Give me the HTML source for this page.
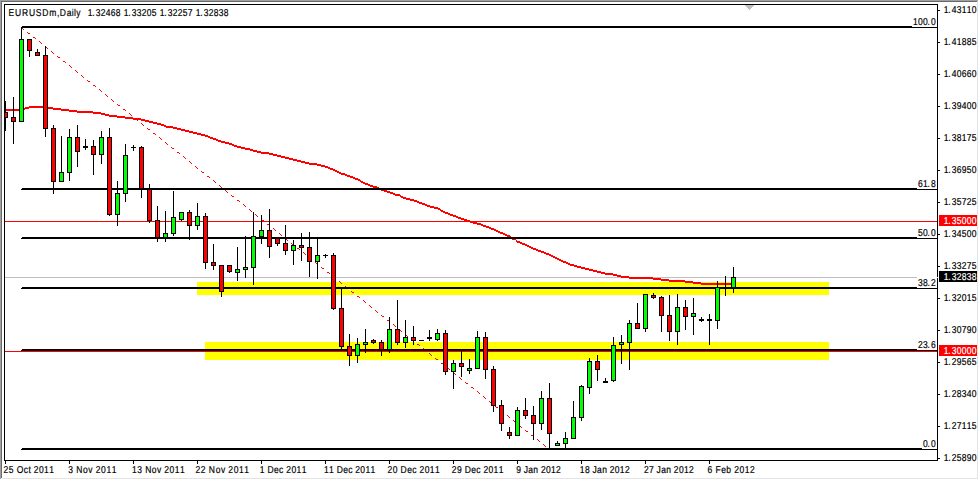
<!DOCTYPE html>
<html><head><meta charset="utf-8"><style>
html,body{margin:0;padding:0;background:#fff;width:979px;height:480px;overflow:hidden}
svg{display:block}
text{font-family:"Liberation Sans", sans-serif}
</style></head><body>
<svg width="979" height="480" viewBox="0 0 979 480" shape-rendering="crispEdges">
<defs><clipPath id="cc"><rect x="5" y="5" width="932" height="455"/></clipPath></defs>
<rect x="0" y="0" width="978" height="1" fill="#a0a0a0"/>
<rect x="0" y="0" width="1" height="479" fill="#a0a0a0"/>
<rect x="1" y="1" width="976" height="1" fill="#696969"/>
<rect x="1" y="1" width="1" height="477" fill="#696969"/>
<rect x="977" y="1" width="1" height="478" fill="#e3e3e3"/>
<rect x="2" y="478" width="976" height="1" fill="#e3e3e3"/>
<rect x="197" y="282" width="632" height="13" fill="#ffff00"/>
<rect x="205" y="342" width="624" height="18" fill="#ffff00"/>
<rect x="5" y="277" width="932" height="1" fill="#c0c0c0"/>
<path fill="#ff0000" d="M5 109h19v2h-19zM24 108h1v2h-1zM25 107h4v2h-4zM29 106h16v2h-16zM45 107h8v2h-8zM53 108h8v2h-8zM61 109h8v2h-8zM69 110h8v2h-8zM77 111h16v2h-16zM93 112h8v2h-8zM101 113h4v2h-4zM105 114h4v2h-4zM109 115h8v2h-8zM117 116h8v2h-8zM125 117h8v2h-8zM133 118h8v2h-8zM141 119h4v2h-4zM145 120h4v2h-4zM149 121h4v2h-4zM153 122h4v2h-4zM157 123h4v2h-4zM161 124h3v2h-3zM164 125h2v2h-2zM166 126h7v2h-7zM173 127h4v2h-4zM177 128h4v2h-4zM181 129h4v2h-4zM185 130h4v2h-4zM189 131h4v2h-4zM193 132h4v2h-4zM197 133h4v2h-4zM201 134h4v2h-4zM205 135h3v2h-3zM208 136h2v2h-2zM210 137h3v2h-3zM213 138h3v2h-3zM216 139h2v2h-2zM218 140h3v2h-3zM221 141h4v2h-4zM225 142h4v2h-4zM229 143h3v2h-3zM232 144h2v2h-2zM234 145h3v2h-3zM237 146h4v2h-4zM241 147h4v2h-4zM245 148h5v2h-5zM250 149h3v2h-3zM253 150h4v2h-4zM257 151h4v2h-4zM261 152h8v2h-8zM269 153h4v2h-4zM273 154h4v2h-4zM277 155h4v2h-4zM281 156h4v2h-4zM285 157h4v2h-4zM289 158h4v2h-4zM293 159h4v2h-4zM297 160h4v2h-4zM301 161h4v2h-4zM305 162h4v2h-4zM309 163h8v2h-8zM317 164h4v2h-4zM321 165h4v2h-4zM325 166h3v2h-3zM328 167h2v2h-2zM330 168h3v2h-3zM333 169h2v2h-2zM335 170h2v2h-2zM337 171h2v2h-2zM339 172h2v2h-2zM341 173h4v2h-4zM345 174h2v2h-2zM347 175h3v2h-3zM350 176h3v2h-3zM353 177h2v2h-2zM355 178h3v2h-3zM358 179h2v2h-2zM360 180h1v2h-1zM361 181h2v2h-2zM363 182h2v2h-2zM365 183h3v2h-3zM368 184h2v2h-2zM370 185h3v2h-3zM373 186h4v2h-4zM377 187h2v2h-2zM379 188h2v2h-2zM381 189h3v2h-3zM384 190h3v2h-3zM387 191h3v2h-3zM390 192h3v2h-3zM393 193h2v2h-2zM395 194h5v2h-5zM400 195h1v2h-1zM401 196h2v2h-2zM403 197h3v2h-3zM406 198h4v2h-4zM410 199h4v2h-4zM414 200h3v2h-3zM417 201h2v2h-2zM419 202h3v2h-3zM422 203h3v2h-3zM425 204h2v2h-2zM427 205h3v2h-3zM430 206h4v2h-4zM434 207h4v2h-4zM438 208h2v2h-2zM440 209h1v2h-1zM441 210h2v2h-2zM443 211h2v2h-2zM445 212h3v2h-3zM448 213h2v2h-2zM450 214h3v2h-3zM453 215h3v2h-3zM456 216h2v2h-2zM458 217h3v2h-3zM461 218h3v2h-3zM464 219h3v2h-3zM467 220h3v2h-3zM470 221h3v2h-3zM473 222h4v2h-4zM477 223h4v2h-4zM481 224h2v2h-2zM483 225h3v2h-3zM486 226h3v2h-3zM489 227h2v2h-2zM491 228h3v2h-3zM494 229h2v2h-2zM496 230h2v2h-2zM498 231h2v2h-2zM500 232h3v2h-3zM503 233h2v2h-2zM505 234h2v2h-2zM507 235h3v2h-3zM510 236h1v2h-1zM511 237h1v2h-1zM512 238h4v2h-4zM516 240h1v2h-1zM517 241h3v2h-3zM520 242h2v2h-2zM522 243h3v2h-3zM525 244h2v2h-2zM527 245h2v2h-2zM529 246h2v2h-2zM531 247h2v2h-2zM533 248h3v2h-3zM536 249h2v2h-2zM538 250h3v2h-3zM541 251h3v2h-3zM544 252h2v2h-2zM546 253h3v2h-3zM549 254h2v2h-2zM551 255h2v2h-2zM553 256h2v2h-2zM555 257h2v2h-2zM557 258h2v2h-2zM559 259h2v2h-2zM561 260h2v2h-2zM563 261h3v2h-3zM566 262h2v2h-2zM568 263h2v2h-2zM570 264h4v2h-4zM574 265h3v2h-3zM577 266h4v2h-4zM581 267h4v2h-4zM585 268h4v2h-4zM589 269h4v2h-4zM593 270h4v2h-4zM597 271h4v2h-4zM601 272h4v2h-4zM605 273h8v2h-8zM613 274h4v2h-4zM617 275h4v2h-4zM621 276h8v2h-8zM629 277h24v2h-24zM653 278h8v2h-8zM661 279h8v2h-8zM669 280h16v2h-16zM685 281h8v2h-8zM693 282h8v2h-8zM701 283h33v2h-33z"/>
<path fill="#fff" d="M24 29h1v1h-1zM25 30h1v1h-1zM26 31h1v1h-1zM30 34h1v1h-1zM31 35h1v1h-1zM32 36h1v1h-1zM36 39h1v1h-1zM37 40h1v1h-1zM38 41h1v1h-1zM42 44h1v1h-1zM43 45h1v1h-1zM44 45h1v1h-1zM48 49h1v1h-1zM49 49h1v1h-1zM50 50h1v1h-1zM54 53h1v1h-1zM55 54h1v1h-1zM56 55h1v1h-1zM60 58h1v1h-1zM61 59h1v1h-1zM62 60h1v1h-1zM66 63h1v1h-1zM67 64h1v1h-1zM68 65h1v1h-1zM72 68h1v1h-1zM73 69h1v1h-1zM74 69h1v1h-1zM78 73h1v1h-1zM79 73h1v1h-1zM80 74h1v1h-1zM84 77h1v1h-1zM85 78h1v1h-1zM86 79h1v1h-1zM90 82h1v1h-1zM91 83h1v1h-1zM92 84h1v1h-1zM96 87h1v1h-1zM97 88h1v1h-1zM98 89h1v1h-1zM102 92h1v1h-1zM103 93h1v1h-1zM104 93h1v1h-1zM108 97h1v1h-1zM109 97h1v1h-1zM110 98h1v1h-1zM114 101h1v1h-1zM115 102h1v1h-1zM116 103h1v1h-1zM120 106h1v1h-1zM121 107h1v1h-1zM122 108h1v1h-1zM126 111h1v1h-1zM127 112h1v1h-1zM128 113h1v1h-1zM132 116h1v1h-1zM133 117h1v1h-1zM134 117h1v1h-1zM138 121h1v1h-1zM139 121h1v1h-1zM140 122h1v1h-1zM144 125h1v1h-1zM145 126h1v1h-1zM146 127h1v1h-1zM150 130h1v1h-1zM151 131h1v1h-1zM152 132h1v1h-1zM156 135h1v1h-1zM157 136h1v1h-1zM158 136h1v1h-1zM162 140h1v1h-1zM163 140h1v1h-1zM164 141h1v1h-1zM168 144h1v1h-1zM169 145h1v1h-1zM170 146h1v1h-1zM174 149h1v1h-1zM175 150h1v1h-1zM176 151h1v1h-1zM180 154h1v1h-1zM181 155h1v1h-1zM182 156h1v1h-1zM186 159h1v1h-1zM187 160h1v1h-1zM188 160h1v1h-1zM192 164h1v1h-1zM193 164h1v1h-1zM194 165h1v1h-1zM198 168h1v1h-1zM199 169h1v1h-1zM200 170h1v1h-1zM204 173h1v1h-1zM205 174h1v1h-1zM206 175h1v1h-1zM210 178h1v1h-1zM211 179h1v1h-1zM212 180h1v1h-1zM216 183h1v1h-1zM217 184h1v1h-1zM218 184h1v1h-1zM222 188h1v1h-1zM223 188h1v1h-1zM224 189h1v1h-1zM228 192h1v1h-1zM229 193h1v1h-1zM230 194h1v1h-1zM234 197h1v1h-1zM235 198h1v1h-1zM236 199h1v1h-1zM240 202h1v1h-1zM241 203h1v1h-1zM242 204h1v1h-1zM246 207h1v1h-1zM247 208h1v1h-1zM248 208h1v1h-1zM252 212h1v1h-1zM253 212h1v1h-1zM254 213h1v1h-1zM258 216h1v1h-1zM259 217h1v1h-1zM260 218h1v1h-1zM264 221h1v1h-1zM265 222h1v1h-1zM266 223h1v1h-1zM270 226h1v1h-1zM271 227h1v1h-1zM272 228h1v1h-1zM276 231h1v1h-1zM277 232h1v1h-1zM278 232h1v1h-1zM282 236h1v1h-1zM283 236h1v1h-1zM284 237h1v1h-1zM288 240h1v1h-1zM289 241h1v1h-1zM290 242h1v1h-1zM294 245h1v1h-1zM295 246h1v1h-1zM296 247h1v1h-1zM300 250h1v1h-1zM301 251h1v1h-1zM302 252h1v1h-1zM306 255h1v1h-1zM307 256h1v1h-1zM308 256h1v1h-1zM312 260h1v1h-1zM313 260h1v1h-1zM314 261h1v1h-1zM318 264h1v1h-1zM319 265h1v1h-1zM320 266h1v1h-1zM324 269h1v1h-1zM325 270h1v1h-1zM326 271h1v1h-1zM330 274h1v1h-1zM331 275h1v1h-1zM332 276h1v1h-1zM336 279h1v1h-1zM337 280h1v1h-1zM338 280h1v1h-1zM342 284h1v1h-1zM343 284h1v1h-1zM344 285h1v1h-1zM348 288h1v1h-1zM349 289h1v1h-1zM350 290h1v1h-1zM354 293h1v1h-1zM355 294h1v1h-1zM356 295h1v1h-1zM360 298h1v1h-1zM361 299h1v1h-1zM362 300h1v1h-1zM366 303h1v1h-1zM367 304h1v1h-1zM368 304h1v1h-1zM372 308h1v1h-1zM373 308h1v1h-1zM374 309h1v1h-1zM378 312h1v1h-1zM379 313h1v1h-1zM380 314h1v1h-1zM384 317h1v1h-1zM385 318h1v1h-1zM386 319h1v1h-1zM390 322h1v1h-1zM391 323h1v1h-1zM392 324h1v1h-1zM396 327h1v1h-1zM397 328h1v1h-1zM398 328h1v1h-1zM402 332h1v1h-1zM403 332h1v1h-1zM404 333h1v1h-1zM408 336h1v1h-1zM409 337h1v1h-1zM410 338h1v1h-1zM414 341h1v1h-1zM415 342h1v1h-1zM416 343h1v1h-1zM420 346h1v1h-1zM421 347h1v1h-1zM422 347h1v1h-1zM426 351h1v1h-1zM427 351h1v1h-1zM428 352h1v1h-1zM432 355h1v1h-1zM433 356h1v1h-1zM434 357h1v1h-1zM438 360h1v1h-1zM439 361h1v1h-1zM440 362h1v1h-1zM444 365h1v1h-1zM445 366h1v1h-1zM446 367h1v1h-1zM450 370h1v1h-1zM451 371h1v1h-1zM452 371h1v1h-1zM456 375h1v1h-1zM457 375h1v1h-1zM458 376h1v1h-1zM462 379h1v1h-1zM463 380h1v1h-1zM464 381h1v1h-1zM468 384h1v1h-1zM469 385h1v1h-1zM470 386h1v1h-1zM474 389h1v1h-1zM475 390h1v1h-1zM476 391h1v1h-1zM480 394h1v1h-1zM481 395h1v1h-1zM482 395h1v1h-1zM486 399h1v1h-1zM487 399h1v1h-1zM488 400h1v1h-1zM492 403h1v1h-1zM493 404h1v1h-1zM494 405h1v1h-1zM498 408h1v1h-1zM499 409h1v1h-1zM500 410h1v1h-1zM504 413h1v1h-1zM505 414h1v1h-1zM506 415h1v1h-1zM510 418h1v1h-1zM511 419h1v1h-1zM512 419h1v1h-1zM516 423h1v1h-1zM517 423h1v1h-1zM518 424h1v1h-1zM522 427h1v1h-1zM523 428h1v1h-1zM524 429h1v1h-1zM528 432h1v1h-1zM529 433h1v1h-1zM530 434h1v1h-1zM534 437h1v1h-1zM535 438h1v1h-1zM536 439h1v1h-1zM540 442h1v1h-1zM541 443h1v1h-1zM542 443h1v1h-1zM546 447h1v1h-1zM547 447h1v1h-1zM548 448h1v1h-1z"/>
<path fill="#ff0000" d="M22 28h1v1h-1zM23 29h1v1h-1zM27 32h1v1h-1zM28 33h1v1h-1zM29 33h1v1h-1zM33 37h1v1h-1zM34 37h1v1h-1zM35 38h1v1h-1zM39 41h1v1h-1zM40 42h1v1h-1zM41 43h1v1h-1zM45 46h1v1h-1zM46 47h1v1h-1zM47 48h1v1h-1zM51 51h1v1h-1zM52 52h1v1h-1zM53 53h1v1h-1zM57 56h1v1h-1zM58 57h1v1h-1zM59 57h1v1h-1zM63 61h1v1h-1zM64 61h1v1h-1zM65 62h1v1h-1zM69 65h1v1h-1zM70 66h1v1h-1zM71 67h1v1h-1zM75 70h1v1h-1zM76 71h1v1h-1zM77 72h1v1h-1zM81 75h1v1h-1zM82 76h1v1h-1zM83 77h1v1h-1zM87 80h1v1h-1zM88 81h1v1h-1zM89 81h1v1h-1zM93 85h1v1h-1zM94 85h1v1h-1zM95 86h1v1h-1zM99 89h1v1h-1zM100 90h1v1h-1zM101 91h1v1h-1zM105 94h1v1h-1zM106 95h1v1h-1zM107 96h1v1h-1zM111 99h1v1h-1zM112 100h1v1h-1zM113 101h1v1h-1zM117 104h1v1h-1zM118 105h1v1h-1zM119 105h1v1h-1zM123 109h1v1h-1zM124 109h1v1h-1zM125 110h1v1h-1zM129 113h1v1h-1zM130 114h1v1h-1zM131 115h1v1h-1zM135 118h1v1h-1zM136 119h1v1h-1zM137 120h1v1h-1zM141 123h1v1h-1zM142 124h1v1h-1zM143 125h1v1h-1zM147 128h1v1h-1zM148 129h1v1h-1zM149 129h1v1h-1zM153 133h1v1h-1zM154 133h1v1h-1zM155 134h1v1h-1zM159 137h1v1h-1zM160 138h1v1h-1zM161 139h1v1h-1zM165 142h1v1h-1zM166 143h1v1h-1zM167 144h1v1h-1zM171 147h1v1h-1zM172 148h1v1h-1zM173 148h1v1h-1zM177 152h1v1h-1zM178 152h1v1h-1zM179 153h1v1h-1zM183 156h1v1h-1zM184 157h1v1h-1zM185 158h1v1h-1zM189 161h1v1h-1zM190 162h1v1h-1zM191 163h1v1h-1zM195 166h1v1h-1zM196 167h1v1h-1zM197 168h1v1h-1zM201 171h1v1h-1zM202 172h1v1h-1zM203 172h1v1h-1zM207 176h1v1h-1zM208 176h1v1h-1zM209 177h1v1h-1zM213 180h1v1h-1zM214 181h1v1h-1zM215 182h1v1h-1zM219 185h1v1h-1zM220 186h1v1h-1zM221 187h1v1h-1zM225 190h1v1h-1zM226 191h1v1h-1zM227 192h1v1h-1zM231 195h1v1h-1zM232 196h1v1h-1zM233 196h1v1h-1zM237 200h1v1h-1zM238 200h1v1h-1zM239 201h1v1h-1zM243 204h1v1h-1zM244 205h1v1h-1zM245 206h1v1h-1zM249 209h1v1h-1zM250 210h1v1h-1zM251 211h1v1h-1zM255 214h1v1h-1zM256 215h1v1h-1zM257 216h1v1h-1zM261 219h1v1h-1zM262 220h1v1h-1zM263 220h1v1h-1zM267 224h1v1h-1zM268 224h1v1h-1zM269 225h1v1h-1zM273 228h1v1h-1zM274 229h1v1h-1zM275 230h1v1h-1zM279 233h1v1h-1zM280 234h1v1h-1zM281 235h1v1h-1zM285 238h1v1h-1zM286 239h1v1h-1zM287 240h1v1h-1zM291 243h1v1h-1zM292 244h1v1h-1zM293 244h1v1h-1zM297 248h1v1h-1zM298 248h1v1h-1zM299 249h1v1h-1zM303 252h1v1h-1zM304 253h1v1h-1zM305 254h1v1h-1zM309 257h1v1h-1zM310 258h1v1h-1zM311 259h1v1h-1zM315 262h1v1h-1zM316 263h1v1h-1zM317 264h1v1h-1zM321 267h1v1h-1zM322 268h1v1h-1zM323 268h1v1h-1zM327 272h1v1h-1zM328 272h1v1h-1zM329 273h1v1h-1zM333 276h1v1h-1zM334 277h1v1h-1zM335 278h1v1h-1zM339 281h1v1h-1zM340 282h1v1h-1zM341 283h1v1h-1zM345 286h1v1h-1zM346 287h1v1h-1zM347 288h1v1h-1zM351 291h1v1h-1zM352 292h1v1h-1zM353 292h1v1h-1zM357 296h1v1h-1zM358 296h1v1h-1zM359 297h1v1h-1zM363 300h1v1h-1zM364 301h1v1h-1zM365 302h1v1h-1zM369 305h1v1h-1zM370 306h1v1h-1zM371 307h1v1h-1zM375 310h1v1h-1zM376 311h1v1h-1zM377 312h1v1h-1zM381 315h1v1h-1zM382 316h1v1h-1zM383 316h1v1h-1zM387 320h1v1h-1zM388 320h1v1h-1zM389 321h1v1h-1zM393 324h1v1h-1zM394 325h1v1h-1zM395 326h1v1h-1zM399 329h1v1h-1zM400 330h1v1h-1zM401 331h1v1h-1zM405 334h1v1h-1zM406 335h1v1h-1zM407 336h1v1h-1zM411 339h1v1h-1zM412 340h1v1h-1zM413 340h1v1h-1zM417 344h1v1h-1zM418 344h1v1h-1zM419 345h1v1h-1zM423 348h1v1h-1zM424 349h1v1h-1zM425 350h1v1h-1zM429 353h1v1h-1zM430 354h1v1h-1zM431 355h1v1h-1zM435 358h1v1h-1zM436 359h1v1h-1zM437 359h1v1h-1zM441 363h1v1h-1zM442 363h1v1h-1zM443 364h1v1h-1zM447 367h1v1h-1zM448 368h1v1h-1zM449 369h1v1h-1zM453 372h1v1h-1zM454 373h1v1h-1zM455 374h1v1h-1zM459 377h1v1h-1zM460 378h1v1h-1zM461 379h1v1h-1zM465 382h1v1h-1zM466 383h1v1h-1zM467 383h1v1h-1zM471 387h1v1h-1zM472 387h1v1h-1zM473 388h1v1h-1zM477 391h1v1h-1zM478 392h1v1h-1zM479 393h1v1h-1zM483 396h1v1h-1zM484 397h1v1h-1zM485 398h1v1h-1zM489 401h1v1h-1zM490 402h1v1h-1zM491 403h1v1h-1zM495 406h1v1h-1zM496 407h1v1h-1zM497 407h1v1h-1zM501 411h1v1h-1zM502 411h1v1h-1zM503 412h1v1h-1zM507 415h1v1h-1zM508 416h1v1h-1zM509 417h1v1h-1zM513 420h1v1h-1zM514 421h1v1h-1zM515 422h1v1h-1zM519 425h1v1h-1zM520 426h1v1h-1zM521 427h1v1h-1zM525 430h1v1h-1zM526 431h1v1h-1zM527 431h1v1h-1zM531 435h1v1h-1zM532 435h1v1h-1zM533 436h1v1h-1zM537 439h1v1h-1zM538 440h1v1h-1zM539 441h1v1h-1zM543 444h1v1h-1zM544 445h1v1h-1zM545 446h1v1h-1z"/>
<rect x="22" y="26" width="915" height="1" fill="#000"/>
<rect x="21" y="27" width="916" height="1" fill="#000"/>
<rect x="22" y="188" width="915" height="1" fill="#000"/>
<rect x="21" y="189" width="916" height="1" fill="#000"/>
<rect x="22" y="237" width="915" height="1" fill="#000"/>
<rect x="21" y="238" width="916" height="1" fill="#000"/>
<rect x="22" y="287" width="915" height="1" fill="#000"/>
<rect x="21" y="288" width="916" height="1" fill="#000"/>
<rect x="22" y="349" width="915" height="1" fill="#000"/>
<rect x="21" y="350" width="916" height="1" fill="#000"/>
<rect x="22" y="448" width="915" height="1" fill="#000"/>
<rect x="21" y="449" width="916" height="1" fill="#000"/>
<rect x="5" y="221" width="932" height="1" fill="#ff0000"/>
<rect x="5" y="351" width="932" height="1" fill="#ff0000"/>
<rect x="912" y="15" width="25" height="12" fill="#fff"/>
<text transform="translate(913.3,25) scale(0.85,1)" x="-0.40 5.48 11.36 16.74 20.78" y="0" font-size="10" fill="#000" stroke="#000" stroke-width="0.2" text-rendering="geometricPrecision">100.0</text>
<rect x="917" y="177" width="20" height="12" fill="#fff"/>
<text transform="translate(918.3,187) scale(0.85,1)" x="-0.40 5.48 10.86 14.89" y="0" font-size="10" fill="#000" stroke="#000" stroke-width="0.2" text-rendering="geometricPrecision">61.8</text>
<rect x="917" y="226" width="20" height="12" fill="#fff"/>
<text transform="translate(918.3,236) scale(0.85,1)" x="-0.40 5.48 10.86 14.89" y="0" font-size="10" fill="#000" stroke="#000" stroke-width="0.2" text-rendering="geometricPrecision">50.0</text>
<rect x="917" y="276" width="20" height="12" fill="#fff"/>
<text transform="translate(918.3,286) scale(0.85,1)" x="-0.40 5.48 10.86 14.89" y="0" font-size="10" fill="#000" stroke="#000" stroke-width="0.2" text-rendering="geometricPrecision">38.2</text>
<rect x="917" y="338" width="20" height="12" fill="#fff"/>
<text transform="translate(918.3,348) scale(0.85,1)" x="-0.40 5.48 10.86 14.89" y="0" font-size="10" fill="#000" stroke="#000" stroke-width="0.2" text-rendering="geometricPrecision">23.6</text>
<rect x="922" y="437" width="15" height="12" fill="#fff"/>
<text transform="translate(923.3,447) scale(0.85,1)" x="-0.40 4.98 9.01" y="0" font-size="10" fill="#000" stroke="#000" stroke-width="0.2" text-rendering="geometricPrecision">0.0</text>
<g clip-path="url(#cc)">
<rect x="5" y="101" width="1" height="30" fill="#000"/>
<rect x="3" y="112" width="5" height="6" fill="#000"/>
<rect x="4" y="113" width="3" height="4" fill="#ff0000"/>
<rect x="13" y="97" width="1" height="47" fill="#000"/>
<rect x="11" y="117" width="5" height="5" fill="#000"/>
<rect x="12" y="118" width="3" height="3" fill="#ff0000"/>
<rect x="21" y="27" width="1" height="95" fill="#000"/>
<rect x="19" y="39" width="5" height="83" fill="#000"/>
<rect x="20" y="40" width="3" height="81" fill="#00ff00"/>
<rect x="29" y="39" width="1" height="18" fill="#000"/>
<rect x="27" y="39" width="5" height="12" fill="#000"/>
<rect x="28" y="40" width="3" height="10" fill="#ff0000"/>
<rect x="37" y="49" width="1" height="7" fill="#000"/>
<rect x="35" y="52" width="5" height="4" fill="#000"/>
<rect x="36" y="53" width="3" height="2" fill="#ff0000"/>
<rect x="45" y="46" width="1" height="91" fill="#000"/>
<rect x="43" y="55" width="5" height="74" fill="#000"/>
<rect x="44" y="56" width="3" height="72" fill="#ff0000"/>
<rect x="53" y="125" width="1" height="69" fill="#000"/>
<rect x="51" y="128" width="5" height="54" fill="#000"/>
<rect x="52" y="129" width="3" height="52" fill="#ff0000"/>
<rect x="61" y="136" width="1" height="46" fill="#000"/>
<rect x="59" y="172" width="5" height="10" fill="#000"/>
<rect x="60" y="173" width="3" height="8" fill="#00ff00"/>
<rect x="69" y="129" width="1" height="52" fill="#000"/>
<rect x="67" y="137" width="5" height="36" fill="#000"/>
<rect x="68" y="138" width="3" height="34" fill="#00ff00"/>
<rect x="77" y="125" width="1" height="42" fill="#000"/>
<rect x="75" y="137" width="5" height="15" fill="#000"/>
<rect x="76" y="138" width="3" height="13" fill="#ff0000"/>
<rect x="85" y="139" width="1" height="11" fill="#000"/>
<rect x="83" y="146" width="5" height="2" fill="#000"/>
<rect x="93" y="140" width="1" height="35" fill="#000"/>
<rect x="91" y="146" width="5" height="9" fill="#000"/>
<rect x="92" y="147" width="3" height="7" fill="#ff0000"/>
<rect x="101" y="131" width="1" height="33" fill="#000"/>
<rect x="99" y="137" width="5" height="18" fill="#000"/>
<rect x="100" y="138" width="3" height="16" fill="#00ff00"/>
<rect x="109" y="128" width="1" height="88" fill="#000"/>
<rect x="107" y="137" width="5" height="78" fill="#000"/>
<rect x="108" y="138" width="3" height="76" fill="#ff0000"/>
<rect x="117" y="181" width="1" height="45" fill="#000"/>
<rect x="115" y="193" width="5" height="22" fill="#000"/>
<rect x="116" y="194" width="3" height="20" fill="#00ff00"/>
<rect x="125" y="144" width="1" height="58" fill="#000"/>
<rect x="123" y="155" width="5" height="39" fill="#000"/>
<rect x="124" y="156" width="3" height="37" fill="#00ff00"/>
<rect x="133" y="145" width="1" height="6" fill="#000"/>
<rect x="131" y="147" width="5" height="1" fill="#000"/>
<rect x="141" y="146" width="1" height="52" fill="#000"/>
<rect x="139" y="147" width="5" height="42" fill="#000"/>
<rect x="140" y="148" width="3" height="40" fill="#ff0000"/>
<rect x="149" y="184" width="1" height="39" fill="#000"/>
<rect x="147" y="189" width="5" height="32" fill="#000"/>
<rect x="148" y="190" width="3" height="30" fill="#ff0000"/>
<rect x="157" y="206" width="1" height="36" fill="#000"/>
<rect x="155" y="220" width="5" height="18" fill="#000"/>
<rect x="156" y="221" width="3" height="16" fill="#ff0000"/>
<rect x="165" y="211" width="1" height="31" fill="#000"/>
<rect x="163" y="233" width="5" height="5" fill="#000"/>
<rect x="164" y="234" width="3" height="3" fill="#00ff00"/>
<rect x="173" y="191" width="1" height="45" fill="#000"/>
<rect x="171" y="217" width="5" height="17" fill="#000"/>
<rect x="172" y="218" width="3" height="15" fill="#00ff00"/>
<rect x="181" y="212" width="1" height="9" fill="#000"/>
<rect x="179" y="212" width="5" height="8" fill="#000"/>
<rect x="180" y="213" width="3" height="6" fill="#00ff00"/>
<rect x="189" y="210" width="1" height="30" fill="#000"/>
<rect x="187" y="212" width="5" height="14" fill="#000"/>
<rect x="188" y="213" width="3" height="12" fill="#ff0000"/>
<rect x="197" y="203" width="1" height="27" fill="#000"/>
<rect x="195" y="216" width="5" height="10" fill="#000"/>
<rect x="196" y="217" width="3" height="8" fill="#00ff00"/>
<rect x="205" y="213" width="1" height="56" fill="#000"/>
<rect x="203" y="216" width="5" height="47" fill="#000"/>
<rect x="204" y="217" width="3" height="45" fill="#ff0000"/>
<rect x="213" y="244" width="1" height="26" fill="#000"/>
<rect x="211" y="262" width="5" height="4" fill="#000"/>
<rect x="212" y="263" width="3" height="2" fill="#ff0000"/>
<rect x="221" y="265" width="1" height="32" fill="#000"/>
<rect x="219" y="265" width="5" height="27" fill="#000"/>
<rect x="220" y="266" width="3" height="25" fill="#ff0000"/>
<rect x="229" y="265" width="1" height="8" fill="#000"/>
<rect x="227" y="265" width="5" height="7" fill="#000"/>
<rect x="228" y="266" width="3" height="5" fill="#ff0000"/>
<rect x="237" y="247" width="1" height="34" fill="#000"/>
<rect x="235" y="269" width="5" height="4" fill="#000"/>
<rect x="236" y="270" width="3" height="2" fill="#00ff00"/>
<rect x="245" y="236" width="1" height="42" fill="#000"/>
<rect x="243" y="267" width="5" height="3" fill="#000"/>
<rect x="244" y="268" width="3" height="1" fill="#00ff00"/>
<rect x="253" y="212" width="1" height="73" fill="#000"/>
<rect x="251" y="236" width="5" height="32" fill="#000"/>
<rect x="252" y="237" width="3" height="30" fill="#00ff00"/>
<rect x="261" y="215" width="1" height="29" fill="#000"/>
<rect x="259" y="230" width="5" height="7" fill="#000"/>
<rect x="260" y="231" width="3" height="5" fill="#00ff00"/>
<rect x="269" y="209" width="1" height="49" fill="#000"/>
<rect x="267" y="230" width="5" height="17" fill="#000"/>
<rect x="268" y="231" width="3" height="15" fill="#ff0000"/>
<rect x="277" y="238" width="1" height="8" fill="#000"/>
<rect x="275" y="238" width="5" height="6" fill="#000"/>
<rect x="276" y="239" width="3" height="4" fill="#ff0000"/>
<rect x="285" y="225" width="1" height="30" fill="#000"/>
<rect x="283" y="243" width="5" height="8" fill="#000"/>
<rect x="284" y="244" width="3" height="6" fill="#ff0000"/>
<rect x="293" y="240" width="1" height="25" fill="#000"/>
<rect x="291" y="245" width="5" height="6" fill="#000"/>
<rect x="292" y="246" width="3" height="4" fill="#00ff00"/>
<rect x="301" y="233" width="1" height="28" fill="#000"/>
<rect x="299" y="245" width="5" height="3" fill="#000"/>
<rect x="300" y="246" width="3" height="1" fill="#ff0000"/>
<rect x="309" y="232" width="1" height="45" fill="#000"/>
<rect x="307" y="247" width="5" height="15" fill="#000"/>
<rect x="308" y="248" width="3" height="13" fill="#ff0000"/>
<rect x="317" y="239" width="1" height="40" fill="#000"/>
<rect x="315" y="255" width="5" height="7" fill="#000"/>
<rect x="316" y="256" width="3" height="5" fill="#00ff00"/>
<rect x="325" y="254" width="1" height="4" fill="#000"/>
<rect x="323" y="255" width="5" height="1" fill="#000"/>
<rect x="333" y="253" width="1" height="57" fill="#000"/>
<rect x="331" y="255" width="5" height="54" fill="#000"/>
<rect x="332" y="256" width="3" height="52" fill="#ff0000"/>
<rect x="341" y="288" width="1" height="62" fill="#000"/>
<rect x="339" y="308" width="5" height="39" fill="#000"/>
<rect x="340" y="309" width="3" height="37" fill="#ff0000"/>
<rect x="349" y="334" width="1" height="32" fill="#000"/>
<rect x="347" y="346" width="5" height="10" fill="#000"/>
<rect x="348" y="347" width="3" height="8" fill="#ff0000"/>
<rect x="357" y="338" width="1" height="25" fill="#000"/>
<rect x="355" y="344" width="5" height="12" fill="#000"/>
<rect x="356" y="345" width="3" height="10" fill="#00ff00"/>
<rect x="365" y="329" width="1" height="24" fill="#000"/>
<rect x="363" y="342" width="5" height="3" fill="#000"/>
<rect x="364" y="343" width="3" height="1" fill="#00ff00"/>
<rect x="373" y="339" width="1" height="5" fill="#000"/>
<rect x="371" y="340" width="5" height="3" fill="#000"/>
<rect x="372" y="341" width="3" height="1" fill="#ff0000"/>
<rect x="381" y="340" width="1" height="16" fill="#000"/>
<rect x="379" y="342" width="5" height="8" fill="#000"/>
<rect x="380" y="343" width="3" height="6" fill="#ff0000"/>
<rect x="389" y="317" width="1" height="36" fill="#000"/>
<rect x="387" y="329" width="5" height="21" fill="#000"/>
<rect x="388" y="330" width="3" height="19" fill="#00ff00"/>
<rect x="397" y="300" width="1" height="45" fill="#000"/>
<rect x="395" y="329" width="5" height="14" fill="#000"/>
<rect x="396" y="330" width="3" height="12" fill="#ff0000"/>
<rect x="405" y="320" width="1" height="28" fill="#000"/>
<rect x="403" y="337" width="5" height="6" fill="#000"/>
<rect x="404" y="338" width="3" height="4" fill="#00ff00"/>
<rect x="413" y="326" width="1" height="19" fill="#000"/>
<rect x="411" y="337" width="5" height="4" fill="#000"/>
<rect x="412" y="338" width="3" height="2" fill="#ff0000"/>
<rect x="421" y="340" width="1" height="1" fill="#000"/>
<rect x="419" y="340" width="5" height="1" fill="#000"/>
<rect x="429" y="330" width="1" height="11" fill="#000"/>
<rect x="427" y="337" width="5" height="2" fill="#000"/>
<rect x="437" y="329" width="1" height="12" fill="#000"/>
<rect x="435" y="333" width="5" height="7" fill="#000"/>
<rect x="436" y="334" width="3" height="5" fill="#00ff00"/>
<rect x="445" y="330" width="1" height="45" fill="#000"/>
<rect x="443" y="333" width="5" height="39" fill="#000"/>
<rect x="444" y="334" width="3" height="37" fill="#ff0000"/>
<rect x="453" y="360" width="1" height="29" fill="#000"/>
<rect x="451" y="363" width="5" height="9" fill="#000"/>
<rect x="452" y="364" width="3" height="7" fill="#00ff00"/>
<rect x="461" y="351" width="1" height="26" fill="#000"/>
<rect x="459" y="363" width="5" height="4" fill="#000"/>
<rect x="460" y="364" width="3" height="2" fill="#ff0000"/>
<rect x="469" y="359" width="1" height="15" fill="#000"/>
<rect x="467" y="368" width="5" height="3" fill="#000"/>
<rect x="468" y="369" width="3" height="1" fill="#00ff00"/>
<rect x="477" y="331" width="1" height="38" fill="#000"/>
<rect x="475" y="337" width="5" height="32" fill="#000"/>
<rect x="476" y="338" width="3" height="30" fill="#00ff00"/>
<rect x="485" y="332" width="1" height="47" fill="#000"/>
<rect x="483" y="337" width="5" height="33" fill="#000"/>
<rect x="484" y="338" width="3" height="31" fill="#ff0000"/>
<rect x="493" y="366" width="1" height="46" fill="#000"/>
<rect x="491" y="369" width="5" height="37" fill="#000"/>
<rect x="492" y="370" width="3" height="35" fill="#ff0000"/>
<rect x="501" y="400" width="1" height="31" fill="#000"/>
<rect x="499" y="405" width="5" height="19" fill="#000"/>
<rect x="500" y="406" width="3" height="17" fill="#ff0000"/>
<rect x="509" y="427" width="1" height="12" fill="#000"/>
<rect x="507" y="432" width="5" height="4" fill="#000"/>
<rect x="508" y="433" width="3" height="2" fill="#ff0000"/>
<rect x="517" y="407" width="1" height="29" fill="#000"/>
<rect x="515" y="410" width="5" height="26" fill="#000"/>
<rect x="516" y="411" width="3" height="24" fill="#00ff00"/>
<rect x="525" y="398" width="1" height="21" fill="#000"/>
<rect x="523" y="410" width="5" height="6" fill="#000"/>
<rect x="524" y="411" width="3" height="4" fill="#ff0000"/>
<rect x="533" y="406" width="1" height="34" fill="#000"/>
<rect x="531" y="415" width="5" height="9" fill="#000"/>
<rect x="532" y="416" width="3" height="7" fill="#ff0000"/>
<rect x="541" y="391" width="1" height="39" fill="#000"/>
<rect x="539" y="398" width="5" height="26" fill="#000"/>
<rect x="540" y="399" width="3" height="24" fill="#00ff00"/>
<rect x="549" y="383" width="1" height="66" fill="#000"/>
<rect x="547" y="398" width="5" height="36" fill="#000"/>
<rect x="548" y="399" width="3" height="34" fill="#ff0000"/>
<rect x="557" y="441" width="1" height="5" fill="#000"/>
<rect x="555" y="443" width="5" height="3" fill="#000"/>
<rect x="556" y="444" width="3" height="1" fill="#00ff00"/>
<rect x="565" y="432" width="1" height="17" fill="#000"/>
<rect x="563" y="438" width="5" height="6" fill="#000"/>
<rect x="564" y="439" width="3" height="4" fill="#00ff00"/>
<rect x="573" y="401" width="1" height="38" fill="#000"/>
<rect x="571" y="417" width="5" height="22" fill="#000"/>
<rect x="572" y="418" width="3" height="20" fill="#00ff00"/>
<rect x="581" y="385" width="1" height="36" fill="#000"/>
<rect x="579" y="386" width="5" height="32" fill="#000"/>
<rect x="580" y="387" width="3" height="30" fill="#00ff00"/>
<rect x="589" y="358" width="1" height="36" fill="#000"/>
<rect x="587" y="361" width="5" height="27" fill="#000"/>
<rect x="588" y="362" width="3" height="25" fill="#00ff00"/>
<rect x="597" y="355" width="1" height="26" fill="#000"/>
<rect x="595" y="361" width="5" height="9" fill="#000"/>
<rect x="596" y="362" width="3" height="7" fill="#ff0000"/>
<rect x="605" y="378" width="1" height="5" fill="#000"/>
<rect x="603" y="381" width="5" height="2" fill="#000"/>
<rect x="613" y="337" width="1" height="45" fill="#000"/>
<rect x="611" y="345" width="5" height="36" fill="#000"/>
<rect x="612" y="346" width="3" height="34" fill="#00ff00"/>
<rect x="621" y="335" width="1" height="29" fill="#000"/>
<rect x="619" y="342" width="5" height="3" fill="#000"/>
<rect x="620" y="343" width="3" height="1" fill="#00ff00"/>
<rect x="629" y="320" width="1" height="50" fill="#000"/>
<rect x="627" y="323" width="5" height="20" fill="#000"/>
<rect x="628" y="324" width="3" height="18" fill="#00ff00"/>
<rect x="637" y="303" width="1" height="26" fill="#000"/>
<rect x="635" y="323" width="5" height="6" fill="#000"/>
<rect x="636" y="324" width="3" height="4" fill="#ff0000"/>
<rect x="645" y="294" width="1" height="38" fill="#000"/>
<rect x="643" y="294" width="5" height="35" fill="#000"/>
<rect x="644" y="295" width="3" height="33" fill="#00ff00"/>
<rect x="653" y="293" width="1" height="6" fill="#000"/>
<rect x="651" y="295" width="5" height="3" fill="#000"/>
<rect x="652" y="296" width="3" height="1" fill="#ff0000"/>
<rect x="661" y="296" width="1" height="36" fill="#000"/>
<rect x="659" y="297" width="5" height="19" fill="#000"/>
<rect x="660" y="298" width="3" height="17" fill="#ff0000"/>
<rect x="669" y="295" width="1" height="46" fill="#000"/>
<rect x="667" y="315" width="5" height="17" fill="#000"/>
<rect x="668" y="316" width="3" height="15" fill="#ff0000"/>
<rect x="677" y="294" width="1" height="51" fill="#000"/>
<rect x="675" y="307" width="5" height="25" fill="#000"/>
<rect x="676" y="308" width="3" height="23" fill="#00ff00"/>
<rect x="685" y="300" width="1" height="30" fill="#000"/>
<rect x="683" y="307" width="5" height="10" fill="#000"/>
<rect x="684" y="308" width="3" height="8" fill="#ff0000"/>
<rect x="693" y="298" width="1" height="37" fill="#000"/>
<rect x="691" y="313" width="5" height="4" fill="#000"/>
<rect x="692" y="314" width="3" height="2" fill="#00ff00"/>
<rect x="701" y="317" width="1" height="5" fill="#000"/>
<rect x="699" y="319" width="5" height="2" fill="#000"/>
<rect x="709" y="314" width="1" height="31" fill="#000"/>
<rect x="707" y="319" width="5" height="2" fill="#000"/>
<rect x="717" y="281" width="1" height="48" fill="#000"/>
<rect x="715" y="287" width="5" height="34" fill="#000"/>
<rect x="716" y="288" width="3" height="32" fill="#00ff00"/>
<rect x="725" y="276" width="1" height="20" fill="#000"/>
<rect x="723" y="287" width="5" height="2" fill="#000"/>
<rect x="733" y="267" width="1" height="26" fill="#000"/>
<rect x="731" y="277" width="5" height="11" fill="#000"/>
<rect x="732" y="278" width="3" height="9" fill="#00ff00"/>
</g>
<rect x="4" y="4" width="934" height="1" fill="#000"/>
<rect x="4" y="4" width="1" height="457" fill="#000"/>
<rect x="937" y="4" width="1" height="457" fill="#000"/>
<rect x="4" y="460" width="934" height="1" fill="#000"/>
<rect x="937" y="277" width="1" height="1" fill="#fff"/>
<rect x="745" y="5" width="9" height="1" fill="#c0c0c0"/>
<rect x="746" y="6" width="7" height="1" fill="#c0c0c0"/>
<rect x="747" y="7" width="5" height="1" fill="#c0c0c0"/>
<rect x="748" y="8" width="3" height="1" fill="#c0c0c0"/>
<rect x="749" y="9" width="1" height="1" fill="#c0c0c0"/>
<rect x="938" y="10" width="2" height="1" fill="#000"/>
<text transform="translate(944,13) scale(0.85,1)" x="-0.40 4.98 9.01 14.89 20.78 26.66 32.54" y="0" font-size="10" fill="#000" stroke="#000" stroke-width="0.2" text-rendering="geometricPrecision">1.43110</text>
<rect x="938" y="42" width="2" height="1" fill="#000"/>
<text transform="translate(944,45) scale(0.85,1)" x="-0.40 4.98 9.01 14.89 20.78 26.66 32.54" y="0" font-size="10" fill="#000" stroke="#000" stroke-width="0.2" text-rendering="geometricPrecision">1.41885</text>
<rect x="938" y="74" width="2" height="1" fill="#000"/>
<text transform="translate(944,77) scale(0.85,1)" x="-0.40 4.98 9.01 14.89 20.78 26.66 32.54" y="0" font-size="10" fill="#000" stroke="#000" stroke-width="0.2" text-rendering="geometricPrecision">1.40660</text>
<rect x="938" y="106" width="2" height="1" fill="#000"/>
<text transform="translate(944,109) scale(0.85,1)" x="-0.40 4.98 9.01 14.89 20.78 26.66 32.54" y="0" font-size="10" fill="#000" stroke="#000" stroke-width="0.2" text-rendering="geometricPrecision">1.39400</text>
<rect x="938" y="138" width="2" height="1" fill="#000"/>
<text transform="translate(944,141) scale(0.85,1)" x="-0.40 4.98 9.01 14.89 20.78 26.66 32.54" y="0" font-size="10" fill="#000" stroke="#000" stroke-width="0.2" text-rendering="geometricPrecision">1.38175</text>
<rect x="938" y="170" width="2" height="1" fill="#000"/>
<text transform="translate(944,173) scale(0.85,1)" x="-0.40 4.98 9.01 14.89 20.78 26.66 32.54" y="0" font-size="10" fill="#000" stroke="#000" stroke-width="0.2" text-rendering="geometricPrecision">1.36950</text>
<rect x="938" y="202" width="2" height="1" fill="#000"/>
<text transform="translate(944,205) scale(0.85,1)" x="-0.40 4.98 9.01 14.89 20.78 26.66 32.54" y="0" font-size="10" fill="#000" stroke="#000" stroke-width="0.2" text-rendering="geometricPrecision">1.35725</text>
<rect x="938" y="234" width="2" height="1" fill="#000"/>
<text transform="translate(944,237) scale(0.85,1)" x="-0.40 4.98 9.01 14.89 20.78 26.66 32.54" y="0" font-size="10" fill="#000" stroke="#000" stroke-width="0.2" text-rendering="geometricPrecision">1.34500</text>
<rect x="938" y="266" width="2" height="1" fill="#000"/>
<text transform="translate(944,269) scale(0.85,1)" x="-0.40 4.98 9.01 14.89 20.78 26.66 32.54" y="0" font-size="10" fill="#000" stroke="#000" stroke-width="0.2" text-rendering="geometricPrecision">1.33275</text>
<rect x="938" y="298" width="2" height="1" fill="#000"/>
<text transform="translate(944,301) scale(0.85,1)" x="-0.40 4.98 9.01 14.89 20.78 26.66 32.54" y="0" font-size="10" fill="#000" stroke="#000" stroke-width="0.2" text-rendering="geometricPrecision">1.32015</text>
<rect x="938" y="330" width="2" height="1" fill="#000"/>
<text transform="translate(944,333) scale(0.85,1)" x="-0.40 4.98 9.01 14.89 20.78 26.66 32.54" y="0" font-size="10" fill="#000" stroke="#000" stroke-width="0.2" text-rendering="geometricPrecision">1.30790</text>
<rect x="938" y="362" width="2" height="1" fill="#000"/>
<text transform="translate(944,365) scale(0.85,1)" x="-0.40 4.98 9.01 14.89 20.78 26.66 32.54" y="0" font-size="10" fill="#000" stroke="#000" stroke-width="0.2" text-rendering="geometricPrecision">1.29565</text>
<rect x="938" y="394" width="2" height="1" fill="#000"/>
<text transform="translate(944,397) scale(0.85,1)" x="-0.40 4.98 9.01 14.89 20.78 26.66 32.54" y="0" font-size="10" fill="#000" stroke="#000" stroke-width="0.2" text-rendering="geometricPrecision">1.28340</text>
<rect x="938" y="426" width="2" height="1" fill="#000"/>
<text transform="translate(944,429) scale(0.85,1)" x="-0.40 4.98 9.01 14.89 20.78 26.66 32.54" y="0" font-size="10" fill="#000" stroke="#000" stroke-width="0.2" text-rendering="geometricPrecision">1.27115</text>
<rect x="938" y="458" width="2" height="1" fill="#000"/>
<text transform="translate(944,461) scale(0.85,1)" x="-0.40 4.98 9.01 14.89 20.78 26.66 32.54" y="0" font-size="10" fill="#000" stroke="#000" stroke-width="0.2" text-rendering="geometricPrecision">1.25890</text>
<rect x="939" y="215" width="38" height="11" fill="#ff0000"/>
<text transform="translate(944,224) scale(0.85,1)" x="-0.40 4.98 9.01 14.89 20.78 26.66 32.54" y="0" font-size="10" fill="#fff" stroke="#fff" stroke-width="0.2" text-rendering="geometricPrecision">1.35000</text>
<rect x="939" y="345" width="38" height="11" fill="#ff0000"/>
<text transform="translate(944,354) scale(0.85,1)" x="-0.40 4.98 9.01 14.89 20.78 26.66 32.54" y="0" font-size="10" fill="#fff" stroke="#fff" stroke-width="0.2" text-rendering="geometricPrecision">1.30000</text>
<rect x="939" y="271" width="38" height="11" fill="#000"/>
<text transform="translate(944,280) scale(0.85,1)" x="-0.40 4.98 9.01 14.89 20.78 26.66 32.54" y="0" font-size="10" fill="#fff" stroke="#fff" stroke-width="0.2" text-rendering="geometricPrecision">1.32838</text>
<rect x="5" y="461" width="1" height="3" fill="#000"/>
<text transform="translate(0,473) scale(0.85,1)" x="4.20 10.32 19.60 28.02 33.40 39.65 45.77 51.88 58.00" y="0" font-size="10" fill="#000" stroke="#000" stroke-width="0.2" text-rendering="geometricPrecision">25Oct2011</text>
<rect x="69" y="461" width="1" height="3" fill="#000"/>
<text transform="translate(0,473) scale(0.85,1)" x="80.21 89.68 97.69 103.90 112.67 118.91 125.16 131.41" y="0" font-size="10" fill="#000" stroke="#000" stroke-width="0.2" text-rendering="geometricPrecision">3Nov2011</text>
<rect x="133" y="461" width="1" height="3" fill="#000"/>
<text transform="translate(0,473) scale(0.85,1)" x="155.36 161.49 170.78 178.66 184.76 193.37 199.51 205.64 211.78" y="0" font-size="10" fill="#000" stroke="#000" stroke-width="0.2" text-rendering="geometricPrecision">13Nov2011</text>
<rect x="197" y="461" width="1" height="3" fill="#000"/>
<text transform="translate(0,473) scale(0.85,1)" x="230.09 236.31 245.74 253.72 259.91 268.65 274.88 281.10 287.32" y="0" font-size="10" fill="#000" stroke="#000" stroke-width="0.2" text-rendering="geometricPrecision">22Nov2011</text>
<rect x="261" y="461" width="1" height="3" fill="#000"/>
<text transform="translate(0,473) scale(0.85,1)" x="305.47 314.59 322.35 328.36 336.82 342.85 348.88 354.92" y="0" font-size="10" fill="#000" stroke="#000" stroke-width="0.2" text-rendering="geometricPrecision">1Dec2011</text>
<rect x="325" y="461" width="1" height="3" fill="#000"/>
<text transform="translate(0,473) scale(0.85,1)" x="381.12 387.07 396.04 403.70 409.63 417.97 423.91 429.86 435.81" y="0" font-size="10" fill="#000" stroke="#000" stroke-width="0.2" text-rendering="geometricPrecision">11Dec2011</text>
<rect x="389" y="461" width="1" height="3" fill="#000"/>
<text transform="translate(0,473) scale(0.85,1)" x="455.97 462.04 471.22 479.03 485.07 493.59 499.66 505.73 511.80" y="0" font-size="10" fill="#000" stroke="#000" stroke-width="0.2" text-rendering="geometricPrecision">20Dec2011</text>
<rect x="453" y="461" width="1" height="3" fill="#000"/>
<text transform="translate(0,473) scale(0.85,1)" x="531.61 537.60 546.65 554.36 560.33 568.73 574.72 580.70 586.69" y="0" font-size="10" fill="#000" stroke="#000" stroke-width="0.2" text-rendering="geometricPrecision">29Dec2011</text>
<rect x="517" y="461" width="1" height="3" fill="#000"/>
<text transform="translate(0,473) scale(0.85,1)" x="607.30 616.18 621.53 627.46 636.36 642.30 648.23 654.16" y="0" font-size="10" fill="#000" stroke="#000" stroke-width="0.2" text-rendering="geometricPrecision">9Jan2012</text>
<rect x="581" y="461" width="1" height="3" fill="#000"/>
<text transform="translate(0,473) scale(0.85,1)" x="682.18 688.14 697.06 702.44 708.40 717.34 723.30 729.26 735.22" y="0" font-size="10" fill="#000" stroke="#000" stroke-width="0.2" text-rendering="geometricPrecision">18Jan2012</text>
<rect x="645" y="461" width="1" height="3" fill="#000"/>
<text transform="translate(0,473) scale(0.85,1)" x="757.50 763.48 772.43 777.82 783.80 792.77 798.75 804.73 810.72" y="0" font-size="10" fill="#000" stroke="#000" stroke-width="0.2" text-rendering="geometricPrecision">27Jan2012</text>
<rect x="709" y="461" width="1" height="3" fill="#000"/>
<text transform="translate(0,473) scale(0.85,1)" x="832.43 841.68 848.41 854.56 863.78 869.93 876.08 882.23" y="0" font-size="10" fill="#000" stroke="#000" stroke-width="0.2" text-rendering="geometricPrecision">6Feb2012</text>
<text transform="translate(0,16) scale(0.85,1)" x="10.12 17.69 25.84 33.99 42.11 49.67 57.90 66.94 70.37 78.41 84.47 86.98 89.67" y="0" font-size="10" fill="#000" stroke="#000" stroke-width="0.2" text-rendering="geometricPrecision">EURUSDm,Daily</text>
<text transform="translate(88,16) scale(0.85,1)" x="-0.40 4.98 9.01 14.89 20.78 26.66 32.54 41.95 47.33 51.36 57.25 63.13 69.01 74.89 84.31 89.68 93.72 99.60 105.48 111.36 117.25 126.66 132.04 136.07 141.95 147.84 153.72 159.60" y="0" font-size="10" fill="#000" stroke="#000" stroke-width="0.2" text-rendering="geometricPrecision">1.324681.332051.322571.32838</text>
</svg>
</body></html>
